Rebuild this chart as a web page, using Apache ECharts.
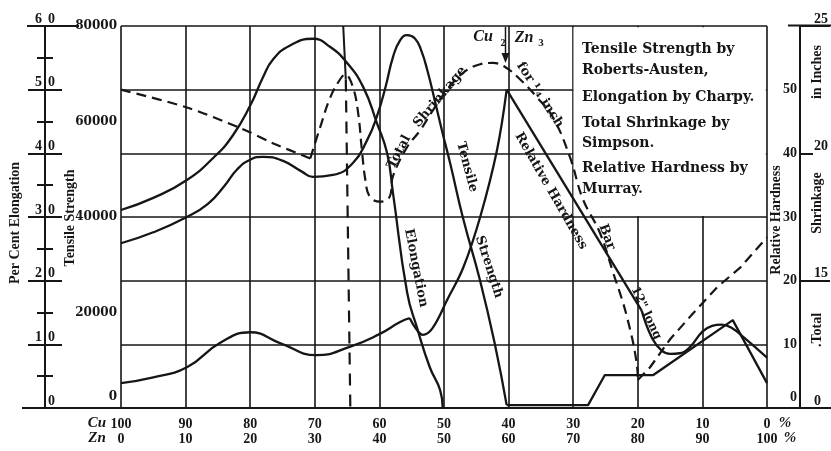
<!DOCTYPE html>
<html><head><meta charset="utf-8">
<script src="https://cdn.jsdelivr.net/npm/echarts@6/dist/echarts.min.js"></script>
<style>html,body{margin:0;padding:0;background:#fff}#c{width:831px;height:451px}</style>
</head><body><div id="c"></div>
<script>
// ---- axis ticks ----
const cuTicks = [100, 90, 80, 70, 60, 50, 40, 30, 20, 10, 0];
const tensileRange = [0, 80000, 20000];
const elongRange = [0, 60, 10];
const hardRange = [0, 60, 10];
const shrinkRange = [10, 25, 5]; // broken scale: bottom is labelled 0
const shrinkLongTicks = [15, 25];
const shrinkShortTicks = [20];

// ---- Tensile Strength (Roberts-Austen), lb/sq in ----
const tensileCuA = [100, 95, 89.8, 86.5, 84.0, 82.0, 80.0, 78.0, 75.0, 72.0, 70.3, 67.2, 64.1, 61.9, 60.4, 59.0, 57.9, 56.8, 55.7, 54.5, 53.5, 52.5, 51.5, 50.3, 49.0, 47.1, 44.4, 42.1, 40.3];
const tensileA   = [34500, 36800, 40000, 42800, 46500, 50000, 52000, 52600, 51800, 49500, 48400, 48800, 51300, 56100, 61000, 67500, 73500, 77000, 78100, 77400, 74800, 70300, 64800, 58000, 51000, 40000, 26600, 13200, 600];
const tensileCuB = [40.3, 27.7, 25.1, 17.6, 5.3, 0];
const tensileB   = [600, 600, 6900, 6900, 18400, 5200];

// ---- Elongation (Charpy), per cent ----
const elongCu = [100, 95, 89.8, 85.5, 82.7, 80.0, 78.0, 76.5, 73.9, 70.3, 67.6, 65.0, 62.5, 60.4, 58.8, 57.9, 55.7, 54.2, 52.2, 50.6, 50.2];
const elong   = [31.1, 33.0, 35.8, 39.5, 42.8, 47.5, 52.0, 54.7, 56.9, 58.0, 56.7, 54.2, 50.4, 44.8, 40.0, 33.8, 18.1, 12.7, 6.4, 2.8, 0];

// ---- Relative Hardness (Murray) ----
const hardCuA = [100, 95, 89.8, 84.7, 80.0, 75.4, 69.7, 64.6, 60.0, 56.8, 55.3];
const hardA   = [3.9, 4.8, 6.4, 10.2, 11.9, 10.2, 8.3, 9.6, 11.6, 13.5, 14.1];
const hardCuB = [55.3, 54.3, 53.3, 51.8, 49.5, 47.0, 44.4, 41.8, 40.3];
const hardB   = [14.1, 12.4, 11.5, 12.5, 17.0, 22.1, 30.0, 40.5, 50.0];
const hardCuC = [40.3, 19.4];
const hardC   = [50.0, 15.3];
const hardCuD = [19.4, 17.8, 16.3, 15.0, 13.5, 12.0, 10.0, 8.5, 7.0, 5.5, 3.5, 0];
const hardD   = [15.3, 11.0, 9.0, 8.5, 8.6, 9.5, 12.0, 12.9, 13.1, 12.6, 11.0, 7.9];

// ---- Total Shrinkage (Simpson), inches, 1/4 inch bar ----
const shrinkCuA = [100, 89.8, 81.6, 76.5, 70.7];
const shrinkA   = [22.5, 21.8, 21.0, 20.4, 19.8];
const shrinkCuB = [70.7, 69.2, 67.6, 66.1, 65.3, 64.1, 63.3, 62.7, 62.2, 61.5, 59.9, 58.4, 57.9, 55.7, 53.7, 51.7, 49.5, 47.1, 44.4, 42.4, 40.6, 38.2, 35.6, 33.1, 30.5, 28.5, 25.9, 23.8, 21.7, 20.1, 20.0];
const shrinkB   = [19.8, 21.0, 22.2, 22.9, 23.1, 22.6, 21.6, 20.1, 19.0, 18.3, 18.1, 18.3, 19.1, 20.25, 20.9, 21.7, 22.5, 23.15, 23.5, 23.55, 23.4, 22.9, 22.2, 21.4, 19.85, 18.2, 16.9, 15.3, 13.6, 11.6, 11.1];
const shrinkCuC = [20.0, 18.1, 15.0, 11.5, 7.7, 4.2, 0];
const shrinkC   = [11.1, 11.6, 12.7, 13.7, 14.75, 15.5, 16.7];

// ---- phase boundary near Cu 65 (on elongation scale) ----
const boundCuSolid = [65.6, 65.2];
const boundSolid   = [60, 51.6];
const boundCuDash  = [65.2, 64.5];
const boundDash    = [51.6, 0];

const ink = '#161616';
const SERIF = '"Liberation Serif"';
const DJ = '"DejaVu Serif"';

function pts(xs, ys) { return xs.map((x, i) => [x, ys[i]]); }
function ser(xs, ys, yi, smooth, dash, w) {
  return { type: 'line', xAxisIndex: 0, yAxisIndex: yi, data: pts(xs, ys), symbol: 'none',
    smooth: smooth, silent: true, animation: false, z: 3,
    lineStyle: { color: ink, width: w || 2.3, type: dash || 'solid', cap: 'butt' } };
}

const series = [
  ser(tensileCuA, tensileA, 2, 0.5),
  ser(tensileCuB, tensileB, 2, false),
  ser(elongCu, elong, 0, 0.5),
  ser(hardCuA, hardA, 3, 0.5),
  ser(hardCuB, hardB, 3, 0.4),
  ser(hardCuC, hardC, 3, false),
  ser(hardCuD, hardD, 3, 0.45),
  ser(shrinkCuA, shrinkA, 4, 0.3, [10, 6], 2.2),
  ser(shrinkCuB, shrinkB, 4, 0.4, [10, 6], 2.2),
  ser(shrinkCuC, shrinkC, 4, false, [10, 6], 2.2),
  ser(boundCuSolid, boundSolid, 0, false, 'solid', 2),
  ser(boundCuDash, boundDash, 0, false, [12, 9], 2.2)
];

function T(text, x, y, rot, font, extra) {
  return Object.assign({ type: 'text', x: x, y: y, rotation: (rot || 0) * Math.PI / 180, z: 20, silent: true,
    style: { text: text, font: font || ('bold 13px ' + SERIF), fill: ink, align: 'center', verticalAlign: 'middle' } }, extra || {});
}
function L(x1, y1, x2, y2, w) {
  return { type: 'line', z: 5, silent: true, shape: { x1, y1, x2, y2 }, style: { stroke: ink, lineWidth: w || 2 } };
}
const legFont = 'bold 14px ' + DJ;
function LT(text, y, font) {
  return { type: 'text', x: 582, y: y, z: 20, silent: true,
    style: { text: text, font: font || legFont, fill: ink, align: 'left', verticalAlign: 'middle' } };
}

const graphic = [
  { type: 'rect', z: 1, silent: true, shape: { x: 573.5, y: 27.2, width: 192.3, height: 188.8 }, style: { fill: '#fff' } },
  LT('Tensile Strength by', 49),
  LT('Roberts-Austen,', 70),
  LT('Elongation by Charpy.', 97),
  LT('Total Shrinkage by', 123),
  LT('Simpson.', 143),
  LT('Relative Hardness by', 168),
  LT('Murray.', 189),
  // axis titles
  T('Per Cent Elongation', 15, 223, 90, 'bold 14px ' + SERIF),
  T('Tensile Strength', 70, 218, 90, 'bold 14px ' + SERIF),
  T('Relative Hardness', 776, 220, 90, 'bold 14px ' + SERIF),
  T('.Total', 817, 330, 90, 'bold 14px ' + SERIF),
  T('Shrinkage', 817, 203, 90, 'bold 14px ' + SERIF),
  T('in Inches', 817, 72, 90, 'bold 14px ' + SERIF),
  // curve labels
  T('Total', 399, 152, 62, 'bold 13px ' + DJ),
  T('Shrinkage', 440, 97, 50, 'bold 13px ' + DJ),
  T('for ¼ inch', 540, 95, -57, 'bold 13px ' + DJ),
  T('Bar', 607, 237, -70, 'bold 13px ' + DJ),
  T('12" long', 646, 313, -65, 'bold 12px ' + DJ),
  T('Tensile', 467, 167, -75, 'bold 13px ' + DJ),
  T('Strength', 489, 267, -72, 'bold 13px ' + DJ),
  T('Elongation', 416, 268, -79, 'bold 13px ' + DJ),
  T('Relative Hardness', 551, 191, -60, 'bold 13px ' + DJ),
  // Cu2Zn3 annotation
  T('Cu', 483, 37, 0, 'italic bold 16px ' + SERIF),
  T('2', 503, 43, 0, 'bold 10px ' + SERIF),
  T('Zn', 524, 38, 0, 'italic bold 16px ' + SERIF),
  T('3', 541, 43, 0, 'bold 11px ' + SERIF),
  L(505.5, 27, 505.5, 56, 1.5),
  { type: 'polygon', z: 6, silent: true, shape: { points: [[501.5, 53], [509.5, 53], [505.5, 63]] }, style: { fill: ink } },
  // bottom axis names
  T('Cu', 97, 423, 0, 'italic bold 15px ' + SERIF),
  T('Zn', 97, 438, 0, 'italic bold 15px ' + SERIF),
  T('%', 785, 423, 0, 'italic bold 15px ' + SERIF),
  T('%', 790, 438, 0, 'italic bold 15px ' + SERIF),
  // axis line extensions
  L(22, 408, 121, 408, 2),
  L(767, 408, 831, 408, 2),
  L(27, 26, 79, 26, 2),
  L(788, 25.5, 831, 25.5, 2)
];

const labFont = { fontFamily: SERIF, fontWeight: 'bold', fontSize: 14, color: ink };

const option = {
  animation: false,
  backgroundColor: '#fff',
  grid: { left: 121, right: 64, top: 26, bottom: 43, containLabel: false },
  xAxis: [
    { type: 'value', min: 0, max: 100, interval: 10, inverse: true, position: 'bottom',
      axisLine: { show: true, onZero: false, lineStyle: { color: ink, width: 2 } }, axisTick: { show: false },
      splitLine: { show: true, lineStyle: { color: ink, width: 1.6 } },
      axisLabel: Object.assign({ margin: 9, showMinLabel: true, showMaxLabel: true,
        formatter: v => cuTicks.indexOf(v) >= 0 ? String(v) : '' }, labFont) },
    { type: 'value', min: 0, max: 100, interval: 10, inverse: true, position: 'bottom', offset: 15,
      axisLine: { show: false, onZero: false }, axisTick: { show: false }, splitLine: { show: false },
      axisLabel: Object.assign({ margin: 9, showMinLabel: true, showMaxLabel: true,
        formatter: v => String(100 - v) }, labFont) }
  ],
  yAxis: [
    // 0: elongation scale, ticks outward + labels split by axis line
    { type: 'value', position: 'left', offset: 76, min: elongRange[0], max: elongRange[1], interval: elongRange[2],
      axisLine: { show: true, onZero: false, lineStyle: { color: ink, width: 2 } },
      axisTick: { show: true, length: 17, lineStyle: { color: ink, width: 2 } },
      minorTick: { show: true, splitNumber: 2, length: 8, lineStyle: { color: ink, width: 2 } },
      splitLine: { show: true, lineStyle: { color: ink, width: 1.6 } },
      axisLabel: { margin: 0, align: 'center', verticalAlign: 'bottom',
        formatter: v => v === 0 ? '{l|}{r|0}' : '{l|' + (v / 10) + '}{r|0}',
        rich: { l: { width: 9, align: 'right', padding: [0, 2, 0, 0], fontFamily: SERIF, fontWeight: 'bold', fontSize: 14, color: ink },
                r: { width: 9, align: 'left', padding: [0, 0, 0, 2], fontFamily: SERIF, fontWeight: 'bold', fontSize: 14, color: ink } } } },
    // 1: inward ticks on same line
    { type: 'value', position: 'left', offset: 76, min: elongRange[0], max: elongRange[1], interval: elongRange[2],
      axisLine: { show: false, onZero: false }, axisLabel: { show: false }, splitLine: { show: false },
      axisTick: { show: true, inside: true, length: 17, lineStyle: { color: ink, width: 2 } },
      minorTick: { show: true, splitNumber: 2, length: 8, lineStyle: { color: ink, width: 2 } } },
    // 2: tensile strength
    { type: 'value', position: 'left', offset: 0, min: tensileRange[0], max: tensileRange[1], interval: tensileRange[2],
      axisLine: { show: false, onZero: false }, axisTick: { show: false }, splitLine: { show: false },
      axisLabel: { margin: 4, fontFamily: DJ, fontWeight: 'bold', fontSize: 12, color: ink,
        formatter: v => v === 0 ? '{z|0}' : String(v),
        rich: { z: { padding: [0, 0, 22, 0], fontFamily: DJ, fontWeight: 'bold', fontSize: 12, color: ink } } } },
    // 3: relative hardness
    { type: 'value', position: 'right', offset: 33, min: hardRange[0], max: hardRange[1], interval: hardRange[2],
      axisLine: { show: true, onZero: false, lineStyle: { color: ink, width: 2 } }, axisTick: { show: false }, splitLine: { show: false },
      axisLabel: Object.assign({ inside: true, margin: 3, showMaxLabel: false,
        formatter: v => v === 60 ? '' : (v === 0 ? '{z|0}' : String(v)),
        rich: { z: { padding: [0, 0, 22, 0], fontFamily: SERIF, fontWeight: 'bold', fontSize: 14, color: ink } } }, labFont) },
    // 4: total shrinkage (broken scale), long ticks + labels
    { type: 'value', position: 'right', offset: 33, min: shrinkRange[0], max: shrinkRange[1], interval: shrinkRange[2],
      axisLine: { show: false, onZero: false }, splitLine: { show: false },
      axisTick: { show: true, length: 30, customValues: shrinkLongTicks, lineStyle: { color: ink, width: 2 } },
      axisLabel: Object.assign({ margin: 14, verticalAlign: 'bottom', align: 'left',
        formatter: v => v === shrinkRange[0] ? '0' : String(v) }, labFont) },
    // 5: total shrinkage short tick
    { type: 'value', position: 'right', offset: 33, min: shrinkRange[0], max: shrinkRange[1], interval: shrinkRange[2],
      axisLine: { show: false, onZero: false }, splitLine: { show: false }, axisLabel: { show: false },
      axisTick: { show: true, length: 13, customValues: shrinkShortTicks, lineStyle: { color: ink, width: 2 } } }
  ],
  series: series,
  graphic: graphic
};
const chart = echarts.init(document.getElementById('c'));
chart.setOption(option);
</script></body></html>
